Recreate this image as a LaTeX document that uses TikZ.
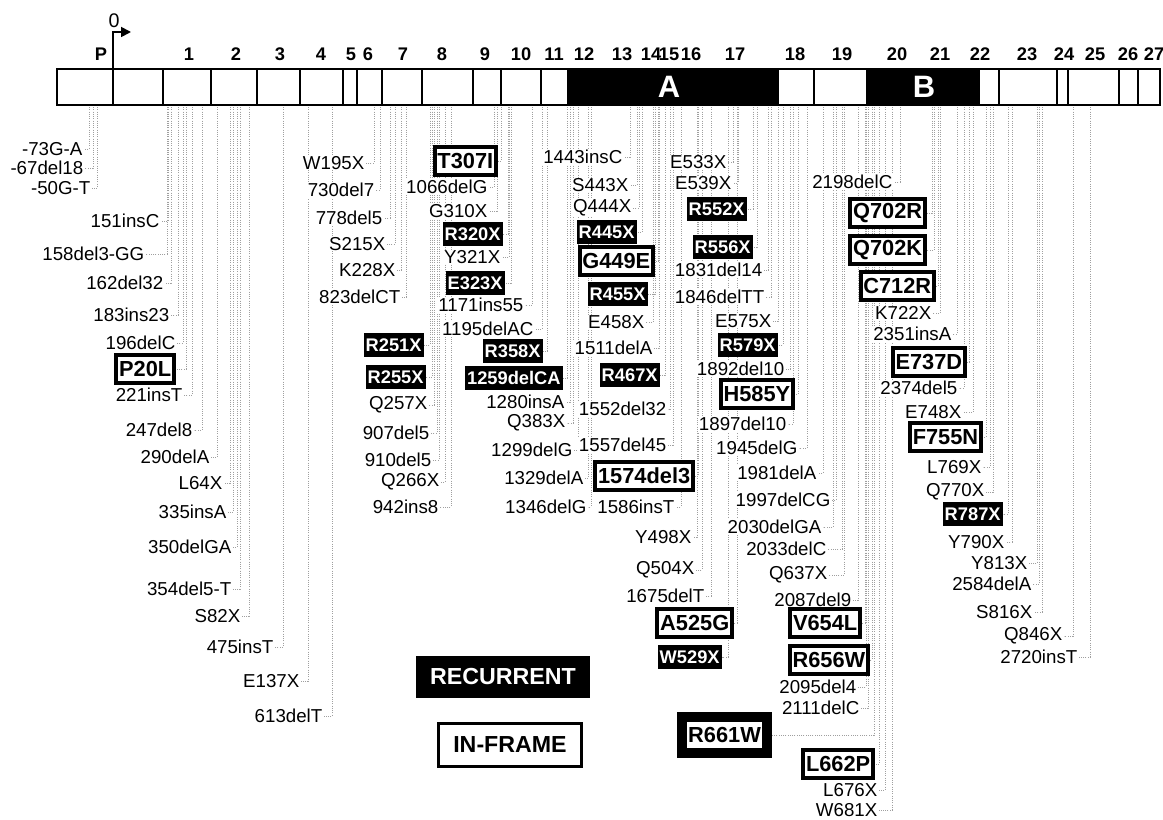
\documentclass[tikz,border=0pt]{standalone}
\usepackage{fontspec}
\setmainfont{Liberation Sans}
\usepackage{tikz}
\usetikzlibrary{arrows.meta}

\pgfdeclarelayer{paper}
\pgfdeclarelayer{bg}
\pgfsetlayers{paper,bg,main}

\tikzset{
	mut/.style={anchor=east, fill=white, inner xsep=1pt, inner ysep=0.5pt, font=\fontsize{13.3}{14}\selectfont},
	recur/.style={anchor=east, fill=black, text=white, inner xsep=1.5pt, inner ysep=0pt, minimum height=0.58cm, font=\fontsize{13}{14}\selectfont\bfseries},
	inframe/.style={anchor=east, draw=black, fill=white, line width=2.8pt, inner xsep=2pt, inner ysep=0pt, minimum height=0.7cm, font=\fontsize{15.5}{17}\selectfont\bfseries},
	recinframe/.style={anchor=east, draw=black, fill=white, line width=7pt, inner sep=0pt, minimum width=2.125cm, minimum height=0.9cm, font=\fontsize{15.5}{17}\selectfont\bfseries},
	leader/.style={draw=gray!75, densely dotted, line width=0.6pt},
	exnum/.style={font=\fontsize{13}{14}\selectfont\bfseries},
}

% label, its leader down from the gene bar
\newcommand{\mutlabel}[6]{%
	\node[#1] (#2) at (#3,#4) {#5};
	\coordinate (#2-top) at (#6,105);
	\begin{pgfonlayer}{bg}\draw[leader] (#2-top) |- (#2.east);\end{pgfonlayer}
}

\begin{document}
\begin{tikzpicture}[x=0.025cm, y=-0.025cm]
	\useasboundingbox (0,0) rectangle (1163,820);
	\begin{pgfonlayer}{paper}\fill[white] (0,0) rectangle (1163,820);\end{pgfonlayer}
	
	% gene bar
	\fill[black] (568,69) rectangle (778,105);
	\fill[black] (867,69) rectangle (979,105);
	\draw[line width=1.3pt] (57,69) rectangle (1160,105);
	\foreach \bx in {113,163,211,257,300,343,357,382,422,473,501,541,568,778,814,867,979,999,1057,1068,1119,1138}
		\draw[line width=1.1pt] (\bx,69) -- (\bx,105);
	\node[font=\fontsize{22}{23}\selectfont\bfseries, text=white] (domA) at (669,87) {A};
	\node[font=\fontsize{22}{23}\selectfont\bfseries, text=white] (domB) at (924,87) {B};
	
	\draw[line width=1.3pt, -{Triangle[length=7pt,width=7pt]}] (113,69) -- (113,32) -- (131,32);
	\node[font=\fontsize{14}{15}\selectfont] (start) at (114,21) {0};
	
	\node[exnum] (exP) at (101,54) {P};
	\node[exnum] (ex1) at (189,54) {1};
	\node[exnum] (ex2) at (236,54) {2};
	\node[exnum] (ex3) at (280,54) {3};
	\node[exnum] (ex4) at (321,54) {4};
	\node[exnum] (ex5) at (351,54) {5};
	\node[exnum] (ex6) at (368,54) {6};
	\node[exnum] (ex7) at (403,54) {7};
	\node[exnum] (ex8) at (442,54) {8};
	\node[exnum] (ex9) at (485,54) {9};
	\node[exnum] (ex10) at (521,54) {10};
	\node[exnum] (ex11) at (554,54) {11};
	\node[exnum] (ex12) at (584,54) {12};
	\node[exnum] (ex13) at (622,54) {13};
	\node[exnum] (ex14) at (651,54) {14};
	\node[exnum] (ex15) at (669,54) {15};
	\node[exnum] (ex16) at (691,54) {16};
	\node[exnum] (ex17) at (735,54) {17};
	\node[exnum] (ex18) at (795,54) {18};
	\node[exnum] (ex19) at (842,54) {19};
	\node[exnum] (ex20) at (897,54) {20};
	\node[exnum] (ex21) at (940,54) {21};
	\node[exnum] (ex22) at (980,54) {22};
	\node[exnum] (ex23) at (1027,54) {23};
	\node[exnum] (ex24) at (1064,54) {24};
	\node[exnum] (ex25) at (1095,54) {25};
	\node[exnum] (ex26) at (1128,54) {26};
	\node[exnum] (ex27) at (1154,54) {27};
	
	% promoter to exon 4
	\mutlabel{mut}{m73ga}{84}{149}{-73G-A}{89}
	\mutlabel{mut}{m67del18}{85}{168}{-67del18}{93}
	\mutlabel{mut}{m50gt}{92}{188}{-50G-T}{97}
	\mutlabel{mut}{i151c}{161}{221}{151insC}{168}
	\mutlabel{mut}{d158gg}{146}{254}{158del3-GG}{167}
	\mutlabel{mut}{d162}{165}{283}{162del32}{171}
	\mutlabel{mut}{i183}{171}{315}{183ins23}{178}
	\mutlabel{mut}{d196c}{177}{343}{196delC}{183}
	\mutlabel{inframe}{p20l}{176}{369}{P20L}{186}
	\mutlabel{mut}{i221t}{184}{395}{221insT}{192}
	\mutlabel{mut}{d247}{194}{430}{247del8}{202}
	\mutlabel{mut}{d290a}{211}{457}{290delA}{217}
	\mutlabel{mut}{l64x}{224}{483}{L64X}{230}
	\mutlabel{mut}{i335a}{228}{512}{335insA}{233}
	\mutlabel{mut}{d350ga}{233}{547}{350delGA}{237}
	\mutlabel{mut}{d354t}{233}{589}{354del5-T}{240}
	\mutlabel{mut}{s82x}{242}{616}{S82X}{249}
	\mutlabel{mut}{i475t}{275}{647}{475insT}{283}
	\mutlabel{mut}{e137x}{301}{681}{E137X}{308}
	\mutlabel{mut}{d613t}{324}{716}{613delT}{332}
	
	% exons 6 to 8
	\mutlabel{mut}{w195x}{366}{163}{W195X}{374}
	\mutlabel{mut}{d730}{376}{190}{730del7}{380}
	\mutlabel{mut}{d778}{384}{218}{778del5}{390}
	\mutlabel{mut}{s215x}{387}{244}{S215X}{395}
	\mutlabel{mut}{k228x}{397}{270}{K228X}{401}
	\mutlabel{mut}{d823ct}{402}{297}{823delCT}{406}
	\mutlabel{recur}{r251x}{424}{345}{R251X}{430}
	\mutlabel{recur}{r255x}{426}{377}{R255X}{432}
	\mutlabel{mut}{q257x}{429}{405}{Q257X}{434}
	\mutlabel{mut}{d907}{431}{433}{907del5}{437}
	\mutlabel{mut}{d910}{433}{460}{910del5}{439}
	\mutlabel{mut}{q266x}{441}{482}{Q266X}{445}
	\mutlabel{mut}{i942}{440}{507}{942ins8}{451}
	
	% exons 8 to 11
	\mutlabel{inframe}{t307i}{498}{161}{T307I}{501}
	\mutlabel{mut}{d1066g}{489}{187}{1066delG}{494}
	\mutlabel{mut}{g310x}{489}{211}{G310X}{497}
	\mutlabel{recur}{r320x}{503}{234}{R320X}{508}
	\mutlabel{mut}{y321x}{502}{257}{Y321X}{509}
	\mutlabel{recur}{e323x}{505}{283}{E323X}{511}
	\mutlabel{mut}{i1171}{525}{305}{1171ins55}{532}
	\mutlabel{mut}{d1195ac}{535}{329}{1195delAC}{542}
	\mutlabel{recur}{r358x}{543}{351}{R358X}{547}
	\mutlabel{recur}{d1259ca}{563}{378}{1259delCA}{567}
	\mutlabel{mut}{i1280a}{566}{402}{1280insA}{570}
	\mutlabel{mut}{q383x}{567}{423}{Q383X}{573}
	\mutlabel{mut}{d1299g}{574}{450}{1299delG}{578}
	\mutlabel{mut}{d1329a}{585}{478}{1329delA}{588}
	\mutlabel{mut}{d1346g}{588}{507}{1346delG}{591}
	
	% exons 12 to 16
	\mutlabel{mut}{i1443c}{624}{157}{1443insC}{630}
	\mutlabel{mut}{s443x}{630}{185}{S443X}{637}
	\mutlabel{mut}{q444x}{633}{208}{Q444X}{639}
	\mutlabel{recur}{r445x}{637}{232}{R445X}{642}
	\mutlabel{inframe}{g449e}{655}{261}{G449E}{658}
	\mutlabel{recur}{r455x}{648}{294}{R455X}{655}
	\mutlabel{mut}{e458x}{646}{322}{E458X}{653}
	\mutlabel{mut}{d1511a}{654}{348}{1511delA}{659}
	\mutlabel{recur}{r467x}{660}{375}{R467X}{665}
	\mutlabel{mut}{d1552}{668}{409}{1552del32}{670}
	\mutlabel{mut}{d1557}{668}{445}{1557del45}{673}
	\mutlabel{inframe}{d1574}{695}{476}{1574del3}{698}
	\mutlabel{mut}{i1586t}{676}{507}{1586insT}{681}
	\mutlabel{mut}{y498x}{693}{537}{Y498X}{697}
	\mutlabel{mut}{q504x}{696}{570}{Q504X}{702}
	\mutlabel{mut}{d1675t}{706}{596}{1675delT}{711}
	\mutlabel{inframe}{a525g}{734}{623}{A525G}{737}
	\mutlabel{recur}{w529x}{722}{657}{W529X}{728}
	
	% exons 17 to 19
	\mutlabel{mut}{e533x}{728}{162}{E533X}{733}
	\mutlabel{mut}{e539x}{733}{183}{E539X}{738}
	\mutlabel{recur}{r552x}{747}{209}{R552X}{753}
	\mutlabel{recur}{r556x}{753}{247}{R556X}{757}
	\mutlabel{mut}{d1831}{764}{270}{1831del14}{768}
	\mutlabel{mut}{d1846tt}{766}{297}{1846delTT}{771}
	\mutlabel{mut}{e575x}{773}{321}{E575X}{778}
	\mutlabel{recur}{r579x}{778}{345}{R579X}{783}
	\mutlabel{mut}{d1892}{786}{369}{1892del10}{790}
	\mutlabel{inframe}{h585y}{795}{394}{H585Y}{798}
	\mutlabel{mut}{d1897}{788}{424}{1897del10}{793}
	\mutlabel{mut}{d1945g}{799}{448}{1945delG}{807}
	\mutlabel{mut}{d1981a}{818}{473}{1981delA}{823}
	\mutlabel{mut}{d1997cg}{832}{500}{1997delCG}{836}
	\mutlabel{mut}{d2030ga}{823}{527}{2030delGA}{833}
	\mutlabel{mut}{d2033c}{828}{549}{2033delC}{842}
	\mutlabel{mut}{q637x}{829}{575}{Q637X}{844}
	\mutlabel{mut}{d2087}{853}{600}{2087del9}{858}
	\mutlabel{inframe}{v654l}{862}{623}{V654L}{865}
	\mutlabel{inframe}{r656w}{870}{660}{R656W}{872}
	\mutlabel{mut}{d2095}{858}{687}{2095del4}{866}
	\mutlabel{mut}{d2111c}{861}{708}{2111delC}{868}
	\mutlabel{recinframe}{r661w}{772}{735}{R661W}{874}
	\mutlabel{inframe}{l662p}{875}{764}{L662P}{879}
	\mutlabel{mut}{l676x}{879}{790}{L676X}{885}
	\mutlabel{mut}{w681x}{879}{810}{W681X}{892}
	
	% exons 20 to 25
	\mutlabel{mut}{d2198c}{894}{182}{2198delC}{900}
	\mutlabel{inframe}{q702r}{927}{213}{Q702R}{932}
	\mutlabel{inframe}{q702k}{927}{250}{Q702K}{934}
	\mutlabel{inframe}{c712r}{936}{286}{C712R}{938}
	\mutlabel{mut}{k722x}{933}{313}{K722X}{940}
	\mutlabel{mut}{i2351a}{953}{334}{2351insA}{957}
	\mutlabel{inframe}{e737d}{967}{362}{E737D}{969}
	\mutlabel{mut}{d2374}{959}{388}{2374del5}{964}
	\mutlabel{mut}{e748x}{963}{412}{E748X}{973}
	\mutlabel{inframe}{f755n}{983}{437}{F755N}{986}
	\mutlabel{mut}{l769x}{983}{467}{L769X}{990}
	\mutlabel{mut}{q770x}{986}{492}{Q770X}{993}
	\mutlabel{recur}{r787x}{1003}{514}{R787X}{1008}
	\mutlabel{mut}{y790x}{1006}{542}{Y790X}{1012}
	\mutlabel{mut}{y813x}{1029}{563}{Y813X}{1037}
	\mutlabel{mut}{d2584a}{1033}{584}{2584delA}{1039}
	\mutlabel{mut}{s816x}{1034}{612}{S816X}{1042}
	\mutlabel{mut}{q846x}{1064}{636}{Q846X}{1073}
	\mutlabel{mut}{i2720t}{1079}{657}{2720insT}{1090}
	
	% key
	\node[fill=black, text=white, minimum width=4.325cm, minimum height=1.025cm, font=\fontsize{16.5}{18}\selectfont\bfseries] (recurrent) at (503,677) {RECURRENT};
	\node[draw=black, line width=2.8pt, minimum width=3.575cm, minimum height=1.075cm, font=\fontsize{16.5}{18}\selectfont\bfseries] (inframekey) at (510,745) {IN-FRAME};
\end{tikzpicture}
\end{document}
